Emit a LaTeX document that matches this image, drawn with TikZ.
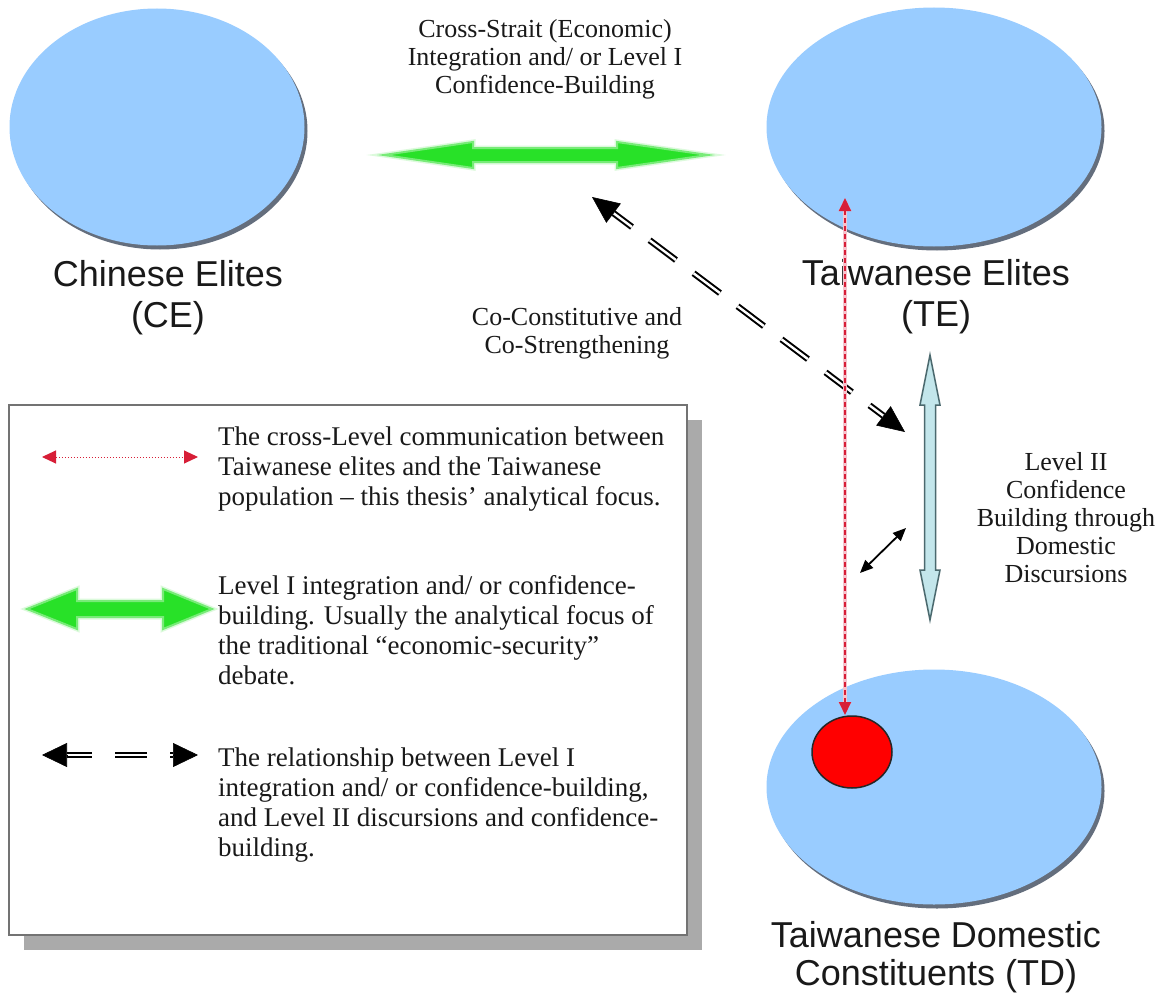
\documentclass[tikz,border=0pt]{standalone}
\usepackage{fontspec}
\setmainfont{Liberation Serif}
\newfontfamily\labelfont{Liberation Sans}
\usetikzlibrary{arrows.meta,shadows,shapes.geometric,calc}
\definecolor{ellblue}{RGB}{153,204,255}
\definecolor{ellshadow}{RGB}{100,110,125}
\definecolor{gfill}{RGB}{40,225,40}
\definecolor{gedge}{RGB}{120,235,120}
\definecolor{gglow}{RGB}{220,250,220}
\definecolor{cyanfill}{RGB}{195,230,235}
\definecolor{cyanedge}{RGB}{75,105,110}
\definecolor{dotred}{RGB}{215,30,55}
\definecolor{dotpink}{RGB}{245,195,205}
\definecolor{boxshadow}{RGB}{170,170,170}
\begin{document}
\begin{tikzpicture}[x=1pt,y=-1pt,
  party/.style={ellipse, fill=ellblue, inner sep=0pt,
    drop shadow={shadow xshift=3pt,shadow yshift=-4pt,fill=ellshadow,opacity=1}},
  biglabel/.style={font=\labelfont\fontsize{36}{41}\selectfont, align=center, inner sep=0pt, text=black!90},
  serifnote/.style={font=\fontsize{26}{28}\selectfont, align=center, inner sep=0pt, text=black!90},
  legendtext/.style={font=\fontsize{27}{30}\selectfont, align=left, anchor=north west, inner sep=0pt, text=black!90},
  greenarrow/.style={fill=gfill, draw=gedge, line width=2pt, line join=miter,
    preaction={draw=gglow, line width=5pt, line join=miter}},
  cyanarrow/.style={fill=cyanfill, draw=cyanedge, line width=1.5pt, line join=miter},
  dbl/.style={draw=black, double=white, double distance=2.4pt, line width=2pt},
  blackhead/.style={-{Triangle[length=#1,width=24pt]}, line width=0.6pt, draw=black, fill=black},
  reddash/.style={draw=dotred, line width=2pt, dash pattern=on 5pt off 3pt,
    preaction={draw=dotpink, line width=3.5pt, solid},
    {Triangle[length=13pt,width=12pt,fill=dotred]}-{Triangle[length=13pt,width=12pt,fill=dotred]}},
  reddot/.style={draw=dotred, line width=1pt, dash pattern=on 1.5pt off 1.5pt,
    {Triangle[length=14pt,width=13pt,fill=dotred]}-{Triangle[length=14pt,width=13pt,fill=dotred]}},
  thinarrow/.style={draw=black, line width=1.8pt,
    {Triangle[length=13pt,width=11pt]}-{Triangle[length=13pt,width=11pt]}}
]
\fill[white] (0,0) rectangle (1163,998);
\useasboundingbox (0,0) rectangle (1163,998);

% ---------- parties ----------
\node[party, minimum width=295pt, minimum height=237pt] (CE) at (157,127) {};
\node[party, minimum width=335pt, minimum height=239pt] (TE) at (934,127) {};
\node[party, minimum width=335pt, minimum height=235pt] (TD) at (934,787) {};
\node[ellipse, fill=red, draw=black!85, line width=1.5pt, inner sep=0pt,
      minimum width=80pt, minimum height=72pt] (pop) at (852,752) {};

\node[biglabel] (CElab) at (168,298) {Chinese Elites\\(CE)};
\node[biglabel] (TElab) at (936,297) {Taiwanese Elites\\(TE)};
\node[biglabel, font=\labelfont\fontsize{36}{38}\selectfont] (TDlab) at (936,957) {Taiwanese Domestic\\Constituents (TD)};

% ---------- text notes ----------
\node[serifnote] (crossnote) at (545,59) {Cross-Strait (Economic)\\Integration and/ or Level I\\Confidence-Building};
\node[serifnote] (conote) at (577,333) {Co-Constitutive and\\Co-Strengthening};
\node[serifnote] (levnote) at (1066,518) {Level II\\Confidence\\Building through\\Domestic\\Discursions};

% ---------- green level I arrow ----------
\coordinate (gL) at (384,155);
\coordinate (gR) at (708,155);
\draw[greenarrow] (gL) -- ++(89,-13) -- ++(0,6) -- ($(gR)+(-91,-7)$) -- ++(0,-6) -- (gR)
  -- ++(-91,13) -- ++(0,-6) -- ($(gL)+(89,7)$) -- ++(0,6) -- cycle;

% ---------- diagonal dashed double arrow ----------
\coordinate (dA) at (592,197);
\coordinate (dB) at (905,432);
\draw[dbl, dash pattern=on 33pt off 22pt, dash phase=10pt] ($(dA)!27pt!(dB)$) -- ($(dB)!27pt!(dA)$);
\draw[blackhead=27pt] ($(dA)!27pt!(dB)$) -- (dA);
\draw[blackhead=27pt] ($(dB)!27pt!(dA)$) -- (dB);

% ---------- vertical level II arrow ----------
\coordinate (vT) at (930,355);
\coordinate (vB) at (930,620);
\draw[cyanarrow] (vT) -- ++(10,50) -- ++(-4.5,0) -- ($(vB)+(5.5,-50)$) -- ++(4.5,0) -- (vB)
  -- ++(-10,-50) -- ++(4.5,0) -- ($(vT)+(-5.5,50)$) -- ++(-4.5,0) -- cycle;

% ---------- small black arrow ----------
\coordinate (sA) at (860,573);
\coordinate (sB) at (906,528);
\draw[thinarrow] (sA) -- (sB);

% ---------- red cross-level arrow ----------
\coordinate (rT) at (845,198);
\coordinate (rB) at (845,715);
\draw[reddash] (rB) -- (rT);

% ---------- legend ----------
\node[draw=black!55, line width=1.5pt, fill=white, minimum width=678pt, minimum height=530pt,
      drop shadow={shadow xshift=15pt,shadow yshift=-15pt,fill=boxshadow,opacity=1}] (legend) at (348,670) {};

\coordinate (lrA) at (42,457);
\coordinate (lrB) at (198,457);
\draw[reddot] (lrA) -- (lrB);
\node[legendtext] (t1) at (218,427) {The cross-Level communication between\\Taiwanese elites and the Taiwanese\\population – this thesis’ analytical focus.};

\coordinate (lgL) at (27,609);
\coordinate (lgR) at (212,609);
\draw[greenarrow] (lgL) -- ++(50,-20) -- ++(0,12) -- ($(lgR)+(-49,-8)$) -- ++(0,-12) -- (lgR)
  -- ++(-49,20) -- ++(0,-12) -- ($(lgL)+(50,8)$) -- ++(0,12) -- cycle;
\node[legendtext] (t2) at (218,575) {Level I integration and/ or confidence-\\building. Usually the analytical focus of\\the traditional “economic-security”\\debate.};

\coordinate (lbA) at (42,755);
\coordinate (lbB) at (198,755);
\draw[dbl, dash pattern=on 32pt off 23pt, dash phase=7pt] ($(lbA)!25pt!(lbB)$) -- ($(lbB)!25pt!(lbA)$);
\draw[blackhead=25pt] ($(lbA)!25pt!(lbB)$) -- (lbA);
\draw[blackhead=25pt] ($(lbB)!25pt!(lbA)$) -- (lbB);
\node[legendtext] (t3) at (218,748) {The relationship between Level I\\integration and/ or confidence-building,\\and Level II discursions and confidence-\\building.};
\end{tikzpicture}
\end{document}
